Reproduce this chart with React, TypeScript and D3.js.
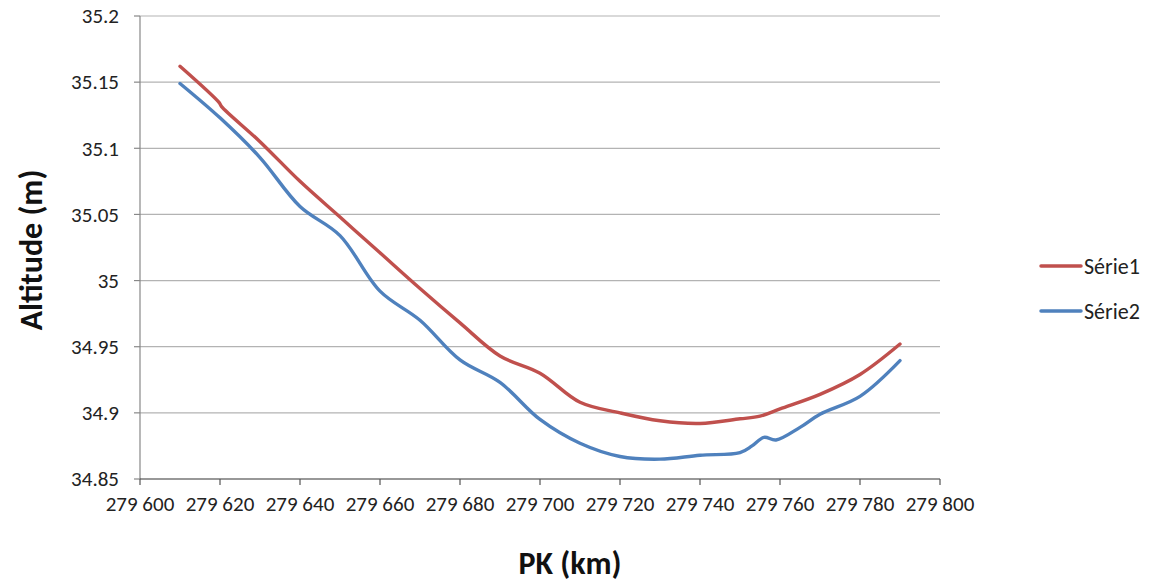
import React from "react";
import * as d3 from "d3";

const pk1 = [279610, 279619.8, 279620.4, 279630, 279640, 279650, 279660, 279670, 279680, 279690, 279700, 279710, 279720, 279730, 279740, 279750, 279755, 279760, 279770, 279780, 279790];
const serie1 = [35.162, 35.1345, 35.1315, 35.105, 35.075, 35.048, 35.021, 34.994, 34.968, 34.943, 34.930, 34.908, 34.900, 34.894, 34.892, 34.8955, 34.8975, 34.903, 34.914, 34.929, 34.952];

const pk2 = [279610, 279620, 279630, 279640, 279650, 279660, 279670, 279680, 279690, 279700, 279710, 279720, 279730, 279740, 279750, 279753, 279756, 279759, 279765, 279770, 279780, 279790];
const serie2 = [35.149, 35.123, 35.093, 35.056, 35.034, 34.992, 34.970, 34.940, 34.923, 34.895, 34.877, 34.867, 34.865, 34.868, 34.870, 34.875, 34.8815, 34.8795, 34.889, 34.899, 34.9125, 34.9395];

const xTicks = [279600, 279620, 279640, 279660, 279680, 279700, 279720, 279740, 279760, 279780, 279800];
const yTicks = [34.85, 34.9, 34.95, 35, 35.05, 35.1, 35.15, 35.2];

const seriesNames = ["Série1", "Série2"];
const colors = ["#c0504d", "#4f81bd"];

export default function App() {
  const W = 1157, H = 583;
  const x = d3.scaleLinear().domain([279600, 279800]).range([140, 940]);
  const y = d3.scaleLinear().domain([34.85, 35.2]).range([479, 16]);
  const line = d3.line<[number, number]>().x(d => x(d[0])).y(d => y(d[1])).curve(d3.curveCatmullRom.alpha(0.5));
  const d1 = line(pk1.map((p, i) => [p, serie1[i]]) as [number, number][]) || "";
  const d2 = line(pk2.map((p, i) => [p, serie2[i]]) as [number, number][]) || "";
  const fmtX = (v: number) => { const s = String(v); return s.slice(0, 3) + " " + s.slice(3); };
  const font = "Carlito, 'Open Sans', 'Noto Sans', sans-serif";
  return (
    <svg width={W} height={H} style={{ position: "absolute", left: 0, top: 0, background: "#fff" }} fontFamily={font}>
      {yTicks.map(t => (
        <g key={t}>
          {t !== 34.85 && <line x1={140} x2={940} y1={y(t)} y2={y(t)} stroke="#b3b3b3" strokeWidth={1.2} />}
          <line x1={134} x2={140} y1={y(t)} y2={y(t)} stroke="#888" strokeWidth={1.2} />
          <text x={119} y={y(t)} dy="0.35em" textAnchor="end" fontSize={21} fill="#222">{String(t)}</text>
        </g>
      ))}
      <line x1={140} x2={140} y1={16} y2={479} stroke="#888" strokeWidth={1.2} />
      <line x1={140} x2={940} y1={479} y2={479} stroke="#333" strokeWidth={1.2} />
      {xTicks.map(t => (
        <g key={t}>
          <line x1={x(t)} x2={x(t)} y1={479} y2={485} stroke="#555" strokeWidth={1.2} />
          <text x={x(t)} y={511} textAnchor="middle" fontSize={21} fill="#222">{fmtX(t)}</text>
        </g>
      ))}
      <path d={d1} fill="none" stroke={colors[0]} strokeWidth={3.4} strokeLinecap="round" />
      <path d={d2} fill="none" stroke={colors[1]} strokeWidth={3.4} strokeLinecap="round" />
      <text x={570} y={574} textAnchor="middle" fontSize={32} fontWeight="bold" fill="#111">PK (km)</text>
      <text transform="translate(42,250) rotate(-90)" textAnchor="middle" fontSize={32} fontWeight="bold" fill="#111">Altitude (m)</text>
      {seriesNames.map((n, i) => (
        <g key={n}>
          <line x1={1041} x2={1081} y1={266 + i * 45} y2={266 + i * 45} stroke={colors[i]} strokeWidth={3.5} strokeLinecap="round" />
          <text x={1084} y={266 + i * 45} dy="0.35em" fontSize={22} fill="#222">{n}</text>
        </g>
      ))}
    </svg>
  );
}
